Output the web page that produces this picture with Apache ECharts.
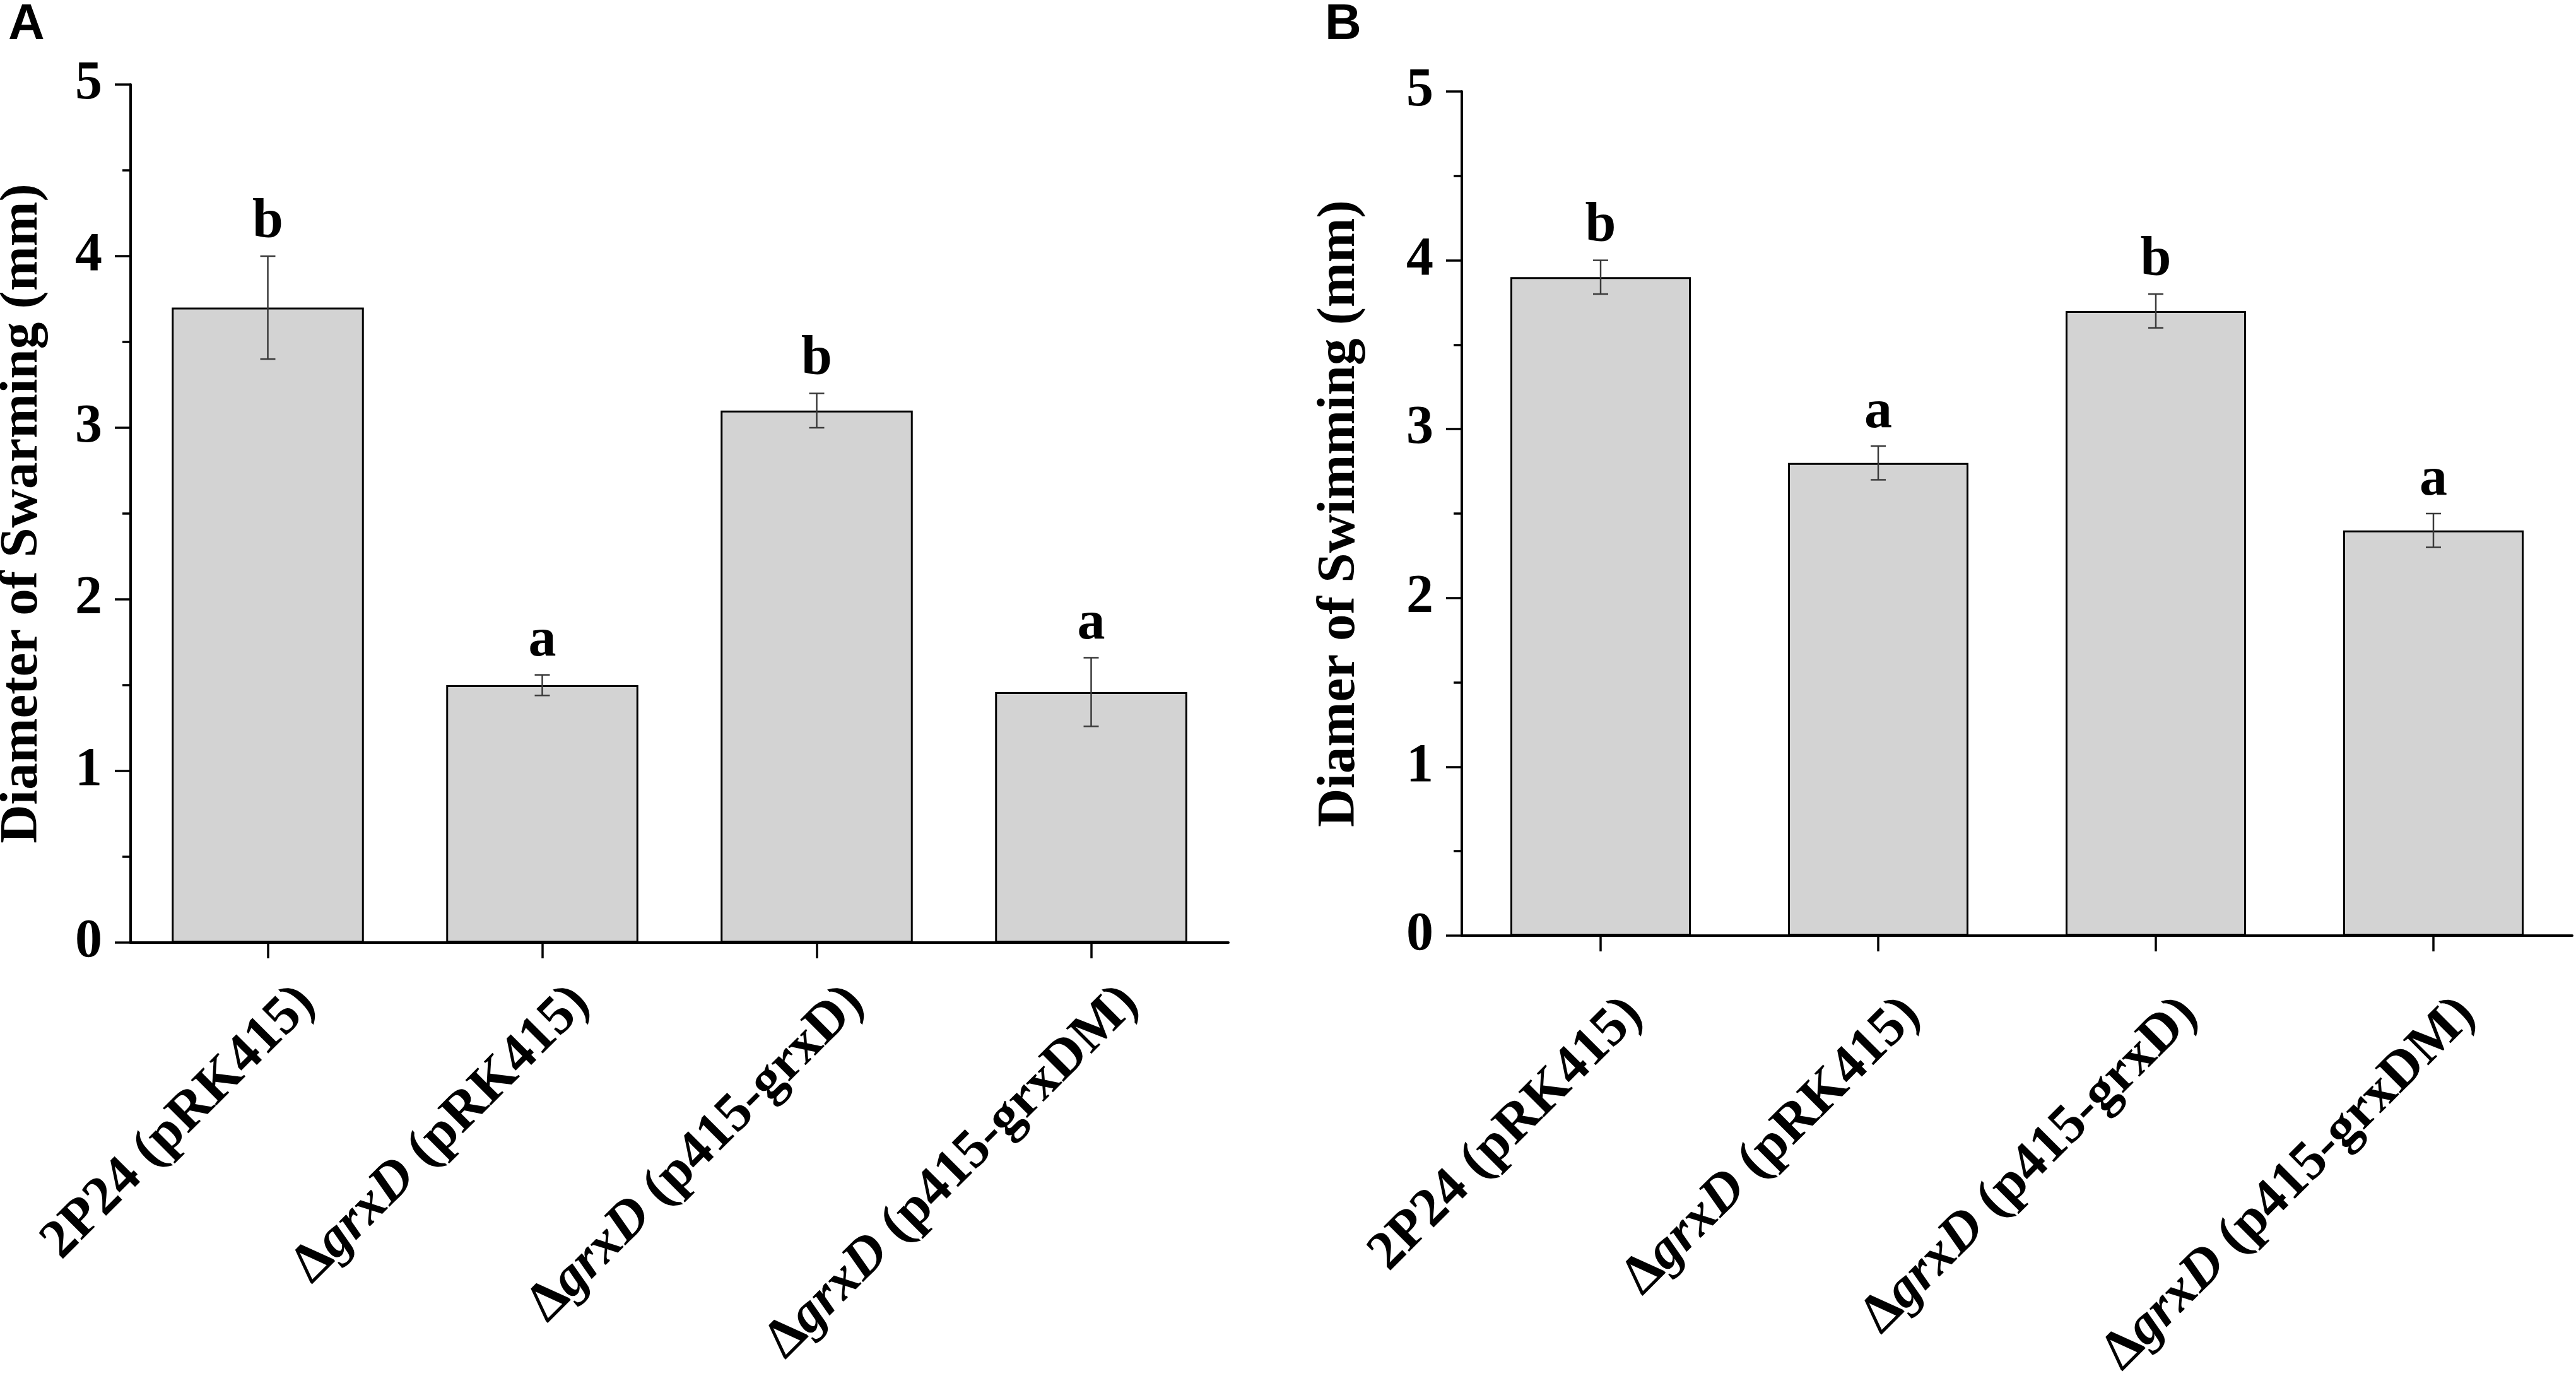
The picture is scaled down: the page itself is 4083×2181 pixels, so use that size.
<!DOCTYPE html>
<html><head><meta charset="utf-8">
<script src="https://cdn.jsdelivr.net/npm/echarts@6/dist/echarts.min.js"></script>
<style>html,body{margin:0;padding:0;background:#fff}#c{width:4083px;height:2181px}</style>
</head><body><div id="c"></div>
<script>
// ---- data ----
const categories = ['2P24 (pRK415)', 'ΔgrxD (pRK415)', 'ΔgrxD (p415-grxD)', 'ΔgrxD (p415-grxDM)'];
const swarmingMean = [3.70, 1.50, 3.10, 1.46];
const swarmingErr = [0.30, 0.06, 0.10, 0.20];
const swarmingLetters = ['b', 'a', 'b', 'a'];
const swimmingMean = [3.90, 2.80, 3.70, 2.40];
const swimmingErr = [0.10, 0.10, 0.10, 0.10];
const swimmingLetters = ['b', 'a', 'b', 'a'];
const yMin = 0, yMax = 5, yStep = 1;
const titleA = 'Diameter of Swarming (mm)';
const titleB = 'Diamer of Swimming (mm)';

const SERIF = '"Liberation Serif", "Times New Roman", serif';
const SANS = '"Liberation Sans", Arial, sans-serif';

function fmtLabel(v) {
  if (v.charAt(0) === 'Δ') {
    const rest = v.slice(1);
    const m = rest.match(/^(\S+)(.*)$/);
    return '{n|Δ}{i|' + m[1] + '}{n|' + m[2] + '}';
  }
  return '{n|' + v + '}';
}

function xAxisCfg(gridIndex, margin, padTop) {
  return {
    type: 'category', gridIndex: gridIndex, data: categories, boundaryGap: true, z: 5,
    axisLine: { show: true, lineStyle: { color: '#000', width: 4 } },
    axisTick: { show: true, alignWithLabel: true, length: 25, lineStyle: { color: '#000', width: 3.5 } },
    splitLine: { show: false },
    axisLabel: {
      interval: 0, rotate: 45, margin: margin, color: '#000',
      verticalAlign: 'top', padding: [padTop, 0, 0, 0],
      formatter: fmtLabel,
      rich: {
        n: { fontFamily: SERIF, fontWeight: 'bold', fontSize: 87, color: '#000' },
        i: { fontFamily: SERIF, fontWeight: 'bold', fontStyle: 'italic', fontSize: 87, color: '#000' }
      }
    }
  };
}

function yAxisCfg(gridIndex, name, nameGap) {
  return {
    type: 'value', gridIndex: gridIndex, min: yMin, max: yMax, interval: yStep, z: 5,
    name: name, nameLocation: 'middle', nameGap: nameGap,
    nameTextStyle: { fontFamily: SERIF, fontWeight: 'bold', fontSize: 85, color: '#000' },
    axisLine: { show: true, lineStyle: { color: '#000', width: 4 } },
    axisTick: { show: true, inside: false, length: 25, lineStyle: { color: '#000', width: 3.5 } },
    minorTick: { show: true, splitNumber: 2, length: 13, lineStyle: { color: '#000', width: 3.5 } },
    splitLine: { show: false }, minorSplitLine: { show: false },
    axisLabel: { margin: 45, fontFamily: SERIF, fontWeight: 'bold', fontSize: 86, color: '#000' }
  };
}

function errSeries(idx, means, errs, letters) {
  return {
    type: 'custom', xAxisIndex: idx, yAxisIndex: idx, z: 4, silent: true,
    data: means.map(function (m, i) { return [i, m, errs[i]]; }),
    encode: { x: 0, y: 1 },
    renderItem: function (params, api) {
      const i = api.value(0), v = api.value(1), e = api.value(2);
      const top = api.coord([i, v + e]);
      const bot = api.coord([i, v - e]);
      const half = 12;
      const st = { stroke: '#3a3a3a', lineWidth: 2.5 };
      return {
        type: 'group', children: [
          { type: 'line', shape: { x1: top[0], y1: top[1], x2: bot[0], y2: bot[1] }, style: st },
          { type: 'line', shape: { x1: top[0] - half, y1: top[1], x2: top[0] + half, y2: top[1] }, style: st },
          { type: 'line', shape: { x1: bot[0] - half, y1: bot[1], x2: bot[0] + half, y2: bot[1] }, style: st },
          { type: 'text', style: {
              text: letters[params.dataIndex], x: top[0], y: top[1] - 9,
              align: 'center', verticalAlign: 'bottom',
              font: 'bold 88px ' + SERIF, fill: '#000' } }
        ]
      };
    }
  };
}

function barSeries(idx, means, width) {
  return {
    type: 'bar', xAxisIndex: idx, yAxisIndex: idx, data: means, barWidth: width, z: 2,
    itemStyle: { color: '#d3d3d3', borderColor: '#000', borderWidth: 3 },
    emphasis: { disabled: true }, silent: true
  };
}

const chart = echarts.init(document.getElementById('c'), null, { renderer: 'canvas' });
chart.setOption({
  backgroundColor: '#fff',
  animation: false,
  grid: [
    { left: 207, top: 134, width: 1740, height: 1360, outerBoundsMode: 'none', containLabel: false },
    { left: 2317, top: 145, width: 1760, height: 1338, outerBoundsMode: 'none', containLabel: false }
  ],
  xAxis: [xAxisCfg(0, 21, 44), xAxisCfg(1, 59, 32)],
  yAxis: [yAxisCfg(0, titleA, 128), yAxisCfg(1, titleB, 150)],
  series: [
    barSeries(0, swarmingMean, '70%'),
    errSeries(0, swarmingMean, swarmingErr, swarmingLetters),
    barSeries(1, swimmingMean, '65%'),
    errSeries(1, swimmingMean, swimmingErr, swimmingLetters)
  ],
  graphic: [
    { type: 'text', left: 13, top: 0, style: { text: 'A', font: 'bold 80px ' + SANS, fill: '#000' } },
    { type: 'text', left: 2100, top: 0, style: { text: 'B', font: 'bold 80px ' + SANS, fill: '#000' } }
  ]
});
</script></body></html>
